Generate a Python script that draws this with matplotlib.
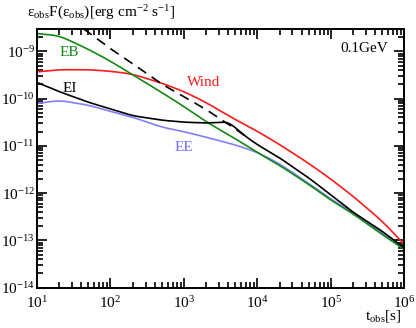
import numpy as np
import matplotlib
matplotlib.use("Agg")
import matplotlib.pyplot as plt
from matplotlib.ticker import LogLocator, NullFormatter

plt.rcParams['font.family'] = ['Liberation Serif', 'DejaVu Serif']
plt.rcParams['mathtext.fontset'] = 'custom'
plt.rcParams['mathtext.rm'] = 'Liberation Serif'
plt.rcParams['mathtext.it'] = 'Liberation Serif:italic'

# observed times [s]
t = [10, 20, 50, 100, 200, 500, 1e3, 2e3, 5e3, 1e4, 2e4, 5e4, 1e5, 2e5, 5e5, 1e6]

f_eb = [2.39e-9, 2.15e-9, 1.11e-9, 6.2e-10, 3.2e-10, 1.35e-10, 6.8e-11, 3.25e-11,
        1.42e-11, 7.2e-12, 3.88e-12, 1.53e-12, 7.1e-13, 3.66e-13, 1.33e-13, 6.4e-14]
f_wind = [3.69e-10, 4.1e-10, 4.1e-10, 3.81e-10, 3.3e-10, 2.13e-10, 1.41e-10, 8.3e-11,
          3.6e-11, 2.04e-11, 1.07e-11, 4.27e-12, 1.98e-12, 8.6e-13, 2.55e-13, 8.2e-14]
f_ee = [7.9e-11, 9.2e-11, 7.3e-11, 5.36e-11, 4.07e-11, 2.49e-11, 2.0e-11, 1.53e-11,
        1.05e-11, 7.3e-12, 4.2e-12, 1.6e-12, 7.5e-13, 3.85e-13, 1.4e-13, 6.7e-14]

t_ei = [10, 20, 50, 100, 200, 500, 1e3, 2e3, 3e3, 4e3, 5.5e3, 7e3, 1e4, 2e4, 5e4, 1e5,
        2e5, 5e5, 1e6]
f_ei = [2.2e-10, 1.41e-10, 8.4e-11, 6.05e-11, 4.37e-11, 3.5e-11, 3.18e-11, 3.05e-11,
        3.15e-11, 3.2e-11, 2.16e-11, 1.56e-11, 1.06e-11, 5.6e-12, 2.1e-12, 9.2e-13,
        3.96e-13, 1.56e-13, 6.9e-14]

t_fit = [43, 100, 200, 500, 1e3, 2e3, 5e3, 7e3]
f_fit = [3.0e-9, 1.14e-9, 5.5e-10, 2.03e-10, 1.1e-10, 5.89e-11, 2.3e-11, 1.56e-11]

xticks = [1e1, 1e2, 1e3, 1e4, 1e5, 1e6]
yticks = [1e-14, 1e-13, 1e-12, 1e-11, 1e-10, 1e-9]


def smooth(x, y, n=300, k=7):
    lx, ly = np.log10(x), np.log10(y)
    xs = np.linspace(lx[0], lx[-1], n)
    ys = np.interp(xs, lx, ly)
    pad = np.concatenate([2 * ys[0] - ys[k:0:-1], ys, 2 * ys[-1] - ys[-2:-k - 2:-1]])
    ys2 = np.convolve(pad, np.ones(2 * k + 1) / (2 * k + 1), mode='valid')
    return 10 ** xs, 10 ** ys2


fig = plt.figure(figsize=(4.16, 3.28), dpi=100)
ax = fig.add_axes([0.089, 0.123, 0.883, 0.789])

ax.plot(*smooth(t, f_wind), color='#ff1a1a', lw=1.2)
ax.plot(*smooth(t, f_ee), color='#8080ff', lw=1.2)
ax.plot(*smooth(t, f_eb), color='#128a12', lw=1.2)
ax.plot(*smooth(t_ei, f_ei, k=4), color='black', lw=1.2)
ax.plot(*smooth(t_fit, f_fit), color='black', lw=1.2, ls=(0, (6, 4)))

ax.set_xscale('log')
ax.set_yscale('log')
ax.set_xticks(xticks)
ax.set_yticks(yticks)
ax.set_xlim(10, 1e6)
ax.set_ylim(1e-14, 3e-9)

ax.xaxis.set_minor_locator(LogLocator(base=10, subs=np.arange(2, 10), numticks=20))
ax.yaxis.set_minor_locator(LogLocator(base=10, subs=np.arange(2, 10), numticks=20))
ax.yaxis.set_minor_formatter(NullFormatter())
ax.xaxis.set_minor_formatter(NullFormatter())

ax.tick_params(which='both', direction='in', top=True, right=True, labelsize=11, width=1.2)
ax.tick_params(which='major', length=7)
ax.tick_params(which='minor', length=4)
ax.tick_params(axis='x', pad=5)
ax.tick_params(axis='y', pad=1.5)
for s in ax.spines.values():
    s.set_linewidth(1.4)

fig.text(60 / 416, 1 - 52 / 328, 'EB', color='#128a12', fontsize=11, va='center')
fig.text(63 / 416, 1 - 88 / 328, 'EI', color='black', fontsize=11, va='center')
fig.text(187 / 416, 1 - 83 / 328, 'Wind', color='#ff1a1a', fontsize=11, va='center')
fig.text(175 / 416, 1 - 147 / 328, 'EE', color='#7070ff', fontsize=11, va='center')
fig.text(388 / 416, 1 - 49 / 328, '0.1GeV', ha='right', fontsize=11, va='center')

fig.text(27 / 416, 1 - 17 / 328,
         r'$\mathrm{\varepsilon_{obs}F(\varepsilon_{obs})[erg\ cm^{-2}\ s^{-1}]}$', fontsize=11)
fig.text(401 / 416, 1 - 320 / 328, r'$\mathrm{t_{obs}[s]}$', ha='right', fontsize=11)

fig.savefig('out.png', dpi=100)
